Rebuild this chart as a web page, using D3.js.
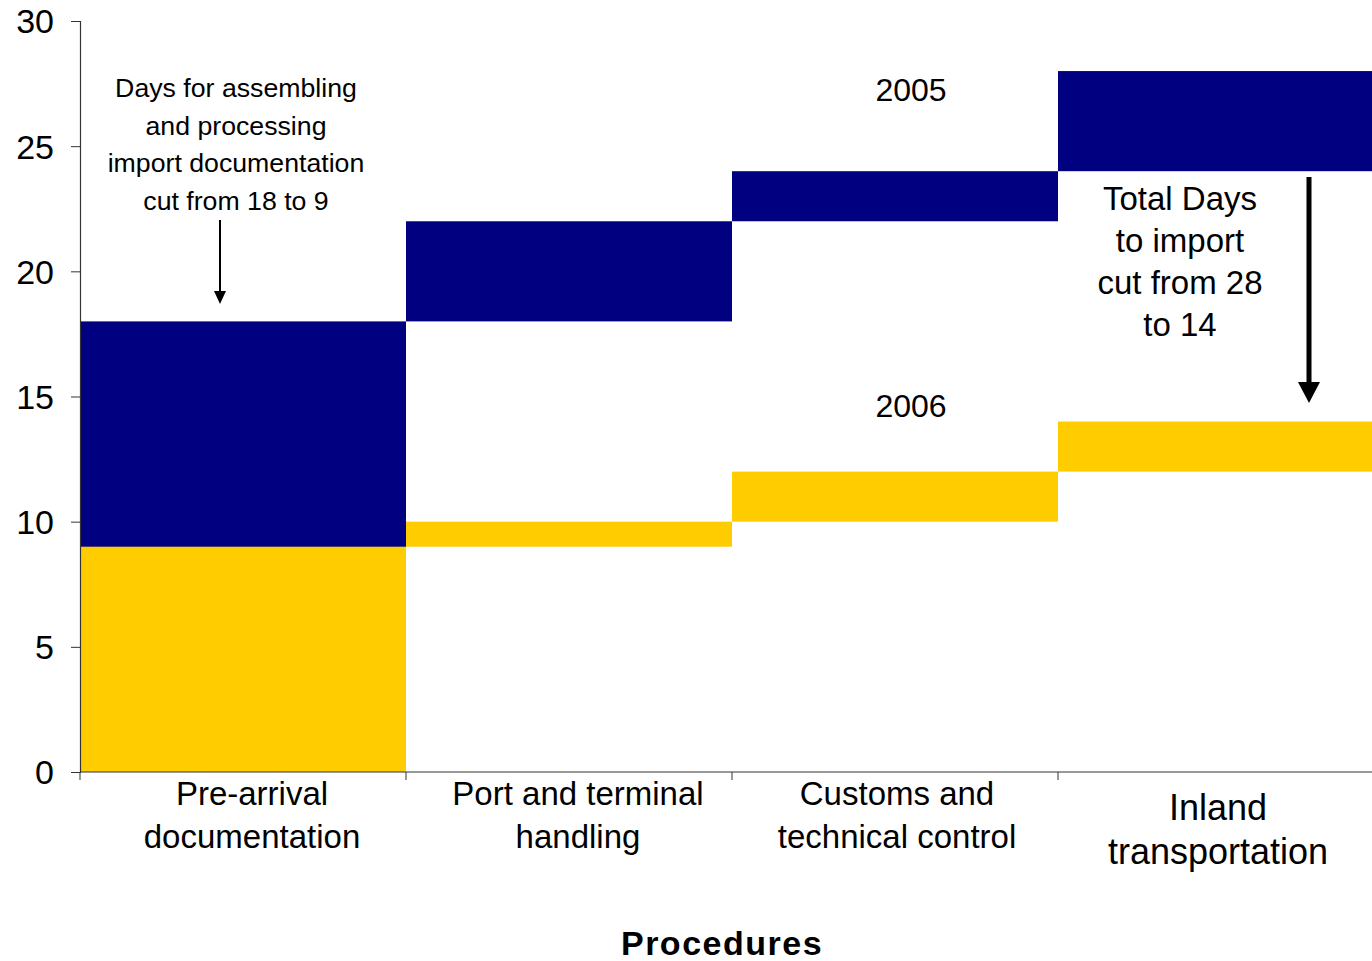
<!DOCTYPE html>
<html><head><meta charset="utf-8">
<script src="https://cdn.jsdelivr.net/npm/d3@7"></script>
<style>html,body{margin:0;padding:0;background:#fff;overflow:hidden}</style>
</head><body>
<svg id="c" width="1372" height="961"></svg>
<script>
const categories = ["Pre-arrival documentation","Port and terminal handling","Customs and technical control","Inland transportation"];
const labelLines = [["Pre-arrival","documentation"],["Port and terminal","handling"],["Customs and","technical control"],["Inland","transportation"]];
const low2005 = [0, 18, 22, 24];
const high2005 = [18, 22, 24, 28];
const low2006 = [0, 9, 10, 12];
const high2006 = [9, 10, 12, 14];
const yTicks = [0, 5, 10, 15, 20, 25, 30];

const svg = d3.select("#c");
const font = "Liberation Sans, Arial, sans-serif";
const x = d3.scaleBand().domain(categories).range([80, 80 + 4*326]).paddingInner(0).paddingOuter(0);
const y = d3.scaleLinear().domain([0, 30]).range([772, 21]);

const navy = "#000080", gold = "#FFCC00";

// 2005 bars
svg.append("g").selectAll("rect").data(categories).join("rect")
  .attr("x", d => x(d)).attr("width", x.bandwidth())
  .attr("y", (d,i) => y(high2005[i])).attr("height", (d,i) => y(low2005[i]) - y(high2005[i]))
  .attr("fill", navy);
// 2006 bars
svg.append("g").selectAll("rect").data(categories).join("rect")
  .attr("x", d => x(d)).attr("width", x.bandwidth())
  .attr("y", (d,i) => y(high2006[i])).attr("height", (d,i) => y(low2006[i]) - y(high2006[i]))
  .attr("fill", gold);

// Y axis
const ya = svg.append("g").attr("transform","translate(80,0)")
  .call(d3.axisLeft(y).tickValues(yTicks).tickSize(9).tickPadding(17));
ya.select(".domain").attr("stroke","#333").attr("stroke-width",1.2);
ya.selectAll(".tick line").attr("stroke","#333");
ya.selectAll(".tick text").attr("font-family",font).attr("font-size",34).attr("fill","#000").attr("dy","0.35em");

// X axis
const xa = svg.append("g").attr("transform","translate(0,772)");
xa.append("line").attr("x1",80).attr("x2",1372).attr("y1",0).attr("y2",0).attr("stroke","#333").attr("stroke-width",1.2);
const bounds = categories.map(d => x(d)).concat([x(categories[3]) + x.bandwidth()]);
xa.selectAll("line.tk").data(bounds).join("line").attr("class","tk")
  .attr("x1", d=>d).attr("x2", d=>d).attr("y1",0).attr("y2",8).attr("stroke","#333");
const labelY = [805, 805, 805, 820];
const labelDx = [9, 9, 2, -3];
const labelSize = [33, 33, 33, 36];
categories.forEach((c,i) => {
  const t = svg.append("text").attr("font-family",font).attr("font-size",labelSize[i]).attr("text-anchor","middle").attr("fill","#000");
  labelLines[i].forEach((ln,j) => {
    t.append("tspan").attr("x", x(c) + x.bandwidth()/2 + labelDx[i]).attr("y", labelY[i] + j*(i===3?44:43)).text(ln);
  });
});

svg.append("text").attr("x",722).attr("y",955).attr("text-anchor","middle").attr("font-family",font)
  .attr("font-size",34).attr("font-weight","bold").attr("letter-spacing","1.5").text("Procedures");

// Annotations
const ann1 = ["Days for assembling","and processing","import documentation","cut from 18 to 9"];
const t1 = svg.append("text").attr("font-family",font).attr("font-size",26.7).attr("text-anchor","middle");
ann1.forEach((ln,j)=> t1.append("tspan").attr("x",236).attr("y",97 + j*37.7).text(ln));

const ann2 = ["Total Days","to import","cut from 28","to 14"];
const t2 = svg.append("text").attr("font-family",font).attr("font-size",33).attr("text-anchor","middle");
ann2.forEach((ln,j)=> t2.append("tspan").attr("x",1180).attr("y",210 + j*42).text(ln));

svg.append("text").attr("x",911).attr("y",101).attr("text-anchor","middle").attr("font-family",font).attr("font-size",32).text("2005");
svg.append("text").attr("x",911).attr("y",417).attr("text-anchor","middle").attr("font-family",font).attr("font-size",32).text("2006");

// arrows
svg.append("line").attr("x1",220).attr("x2",220).attr("y1",220).attr("y2",292).attr("stroke","#000").attr("stroke-width",2);
svg.append("path").attr("d","M214,291 L226,291 L220,304 Z").attr("fill","#000");
svg.append("line").attr("x1",1309).attr("x2",1309).attr("y1",177).attr("y2",384).attr("stroke","#000").attr("stroke-width",5);
svg.append("path").attr("d","M1298,382 L1320,382 L1309,403 Z").attr("fill","#000");
</script>
</body></html>
